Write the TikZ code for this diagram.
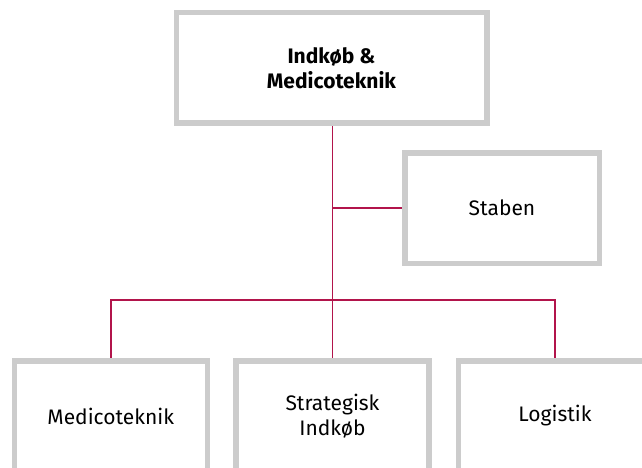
\documentclass[tikz,border=0pt]{standalone}
\usepackage{fontspec}
\setmainfont{Fira Sans}
\pgfdeclarelayer{background}
\pgfdeclarelayer{paper}
\pgfsetlayers{paper,background,main}
\definecolor{boxgray}{RGB}{204,204,204}
\definecolor{linkred}{RGB}{178,20,75}
\tikzset{
  orgbox/.style={draw=boxgray, line width=5.5pt, fill=white, inner sep=0pt, outer sep=0pt,
    align=center, font=\fontsize{21}{25}\selectfont},
  link/.style={draw=linkred, line width=1.6pt}
}
\begin{document}
\begin{tikzpicture}[x=1pt,y=-1pt]
\clip (0,0) rectangle (642,468);
\begin{pgfonlayer}{paper}
\fill[white] (0,0) rectangle (642,468);
\end{pgfonlayer}
\node[orgbox, minimum width=310.5pt, minimum height=110.5pt] (top) at (331.5,68) {\bfseries Indkøb \&\\\bfseries Medicoteknik};
\node[orgbox, minimum width=194.5pt, minimum height=110.5pt] (sta) at (502,208) {Staben};
\node[orgbox, minimum width=193pt, minimum height=110.5pt] (left) at (110.75,416) {Medicoteknik};
\node[orgbox, minimum width=193pt, minimum height=110.5pt] (mid) at (332.5,416) {Strategisk\\Indkøb};
\node[orgbox, minimum width=193pt, minimum height=110.5pt] (right) at (555,416) {Logistik};
\coordinate (bar) at (0,300);
\begin{pgfonlayer}{background}
\draw[link] (mid.north) -- (mid.north |- top.south);
\draw[link] (mid.north |- sta.west) -- (sta.west);
\draw[link] (left.north) |- (bar -| right.north) -- (right.north);
\end{pgfonlayer}
\end{tikzpicture}
\end{document}
